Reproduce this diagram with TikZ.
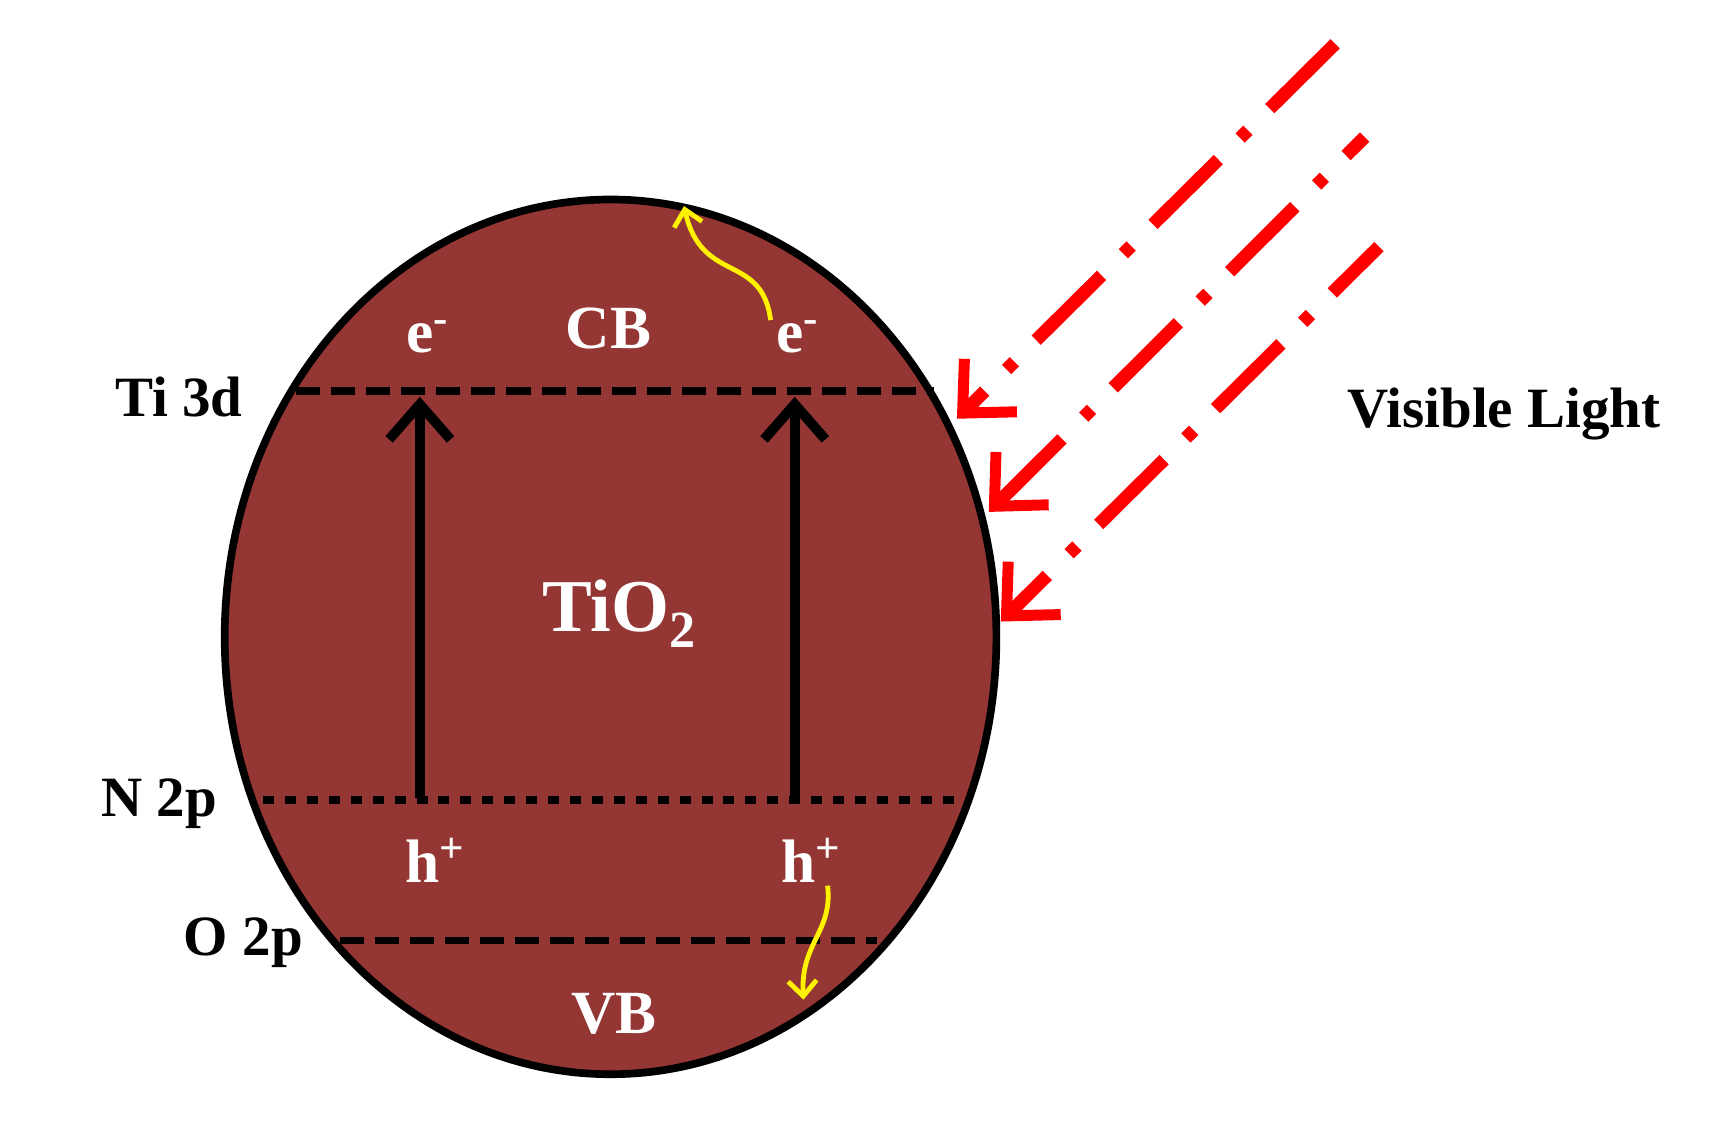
\documentclass[tikz,border=0pt]{standalone}
\usepackage{fontspec}
\setmainfont{Liberation Serif}
\usetikzlibrary{arrows.meta,shapes.geometric}
\definecolor{tio}{HTML}{943634}
\begin{document}
\begin{tikzpicture}[x=0.5pt,y=-0.5pt,
  lbl/.style={font=\bfseries\fontsize{26}{28}\selectfont},
  wl/.style={font=\bfseries\fontsize{28}{30}\selectfont,text=white},
  lev/.style={line width=3.5pt},
  up/.style={line width=4.5pt,-{Straight Barb[length=16pt,width=28pt,line width=4.5pt]}},
  ray/.style={red,line width=6pt,dash pattern=on 42pt off 14pt on 5pt off 14pt,-{Straight Barb[length=18pt,width=34pt,line width=5pt]}},
  yel/.style={yellow,line width=2.2pt,-{Straight Barb[length=7pt,width=13pt,line width=2.2pt]}}]
\useasboundingbox (0,0) rectangle (1560,1032);
\node[ellipse,draw,line width=3.5pt,fill=tio,minimum width=352pt,minimum height=399pt,inner sep=0] (p) at (557,581) {};
\coordinate (t1) at (270,357); \coordinate (t2) at (852,357);
\coordinate (n1) at (240,730); \coordinate (n2) at (872,730);
\coordinate (o1) at (310,858); \coordinate (o2) at (800,858);
\draw[lev,dash pattern=on 11pt off 5pt] (t1) -- (t2);
\draw[lev,dash pattern=on 5pt off 5pt] (n1) -- (n2);
\draw[lev,dash pattern=on 11pt off 5pt] (o1) -- (o2);
\coordinate (a1) at (383,728); \coordinate (a1e) at (383,362);
\coordinate (a2) at (725,728); \coordinate (a2e) at (725,362);
\draw[up] (a1) -- (a1e);
\draw[up] (a2) -- (a2e);
\node[wl] (e1) at (390,307) {e\textsuperscript{-}};
\node[wl] (e2) at (728,307) {e\textsuperscript{-}};
\node[wl] (cb) at (555,300) {CB};
\node[wl,font=\bfseries\fontsize{34}{36}\selectfont] (tio2) at (565,560) {TiO\textsubscript{2}};
\node[wl] (h1) at (397,785) {h\textsuperscript{+}};
\node[wl] (h2) at (740,785) {h\textsuperscript{+}};
\node[wl] (vb) at (560,925) {VB};
\node[lbl] (ti) at (163,362) {Ti 3d};
\node[lbl] (n) at (145,733) {N 2p};
\node[lbl] (o) at (222,860) {O 2p};
\node[lbl] (vl) at (1372,378) {Visible Light};
\coordinate (y1s) at (703,292); \coordinate (y1e) at (624,188);
\draw[yel] (y1s) .. controls (695,230) and (640,260) .. (y1e);
\coordinate (y2s) at (755,808); \coordinate (y2e) at (733,912);
\draw[yel] (y2s) .. controls (760,850) and (730,860) .. (y2e);
\coordinate (r1s) at (1218,40); \coordinate (r1e) at (873,382);
\coordinate (r2s) at (1245,125); \coordinate (r2e) at (902,467);
\coordinate (r3s) at (1258,225); \coordinate (r3e) at (913,567);
\draw[ray] (r1s) -- (r1e);
\draw[ray,dash phase=30pt] (r2s) -- (r2e);
\draw[ray,dash phase=12pt] (r3s) -- (r3e);
\end{tikzpicture}
\end{document}
